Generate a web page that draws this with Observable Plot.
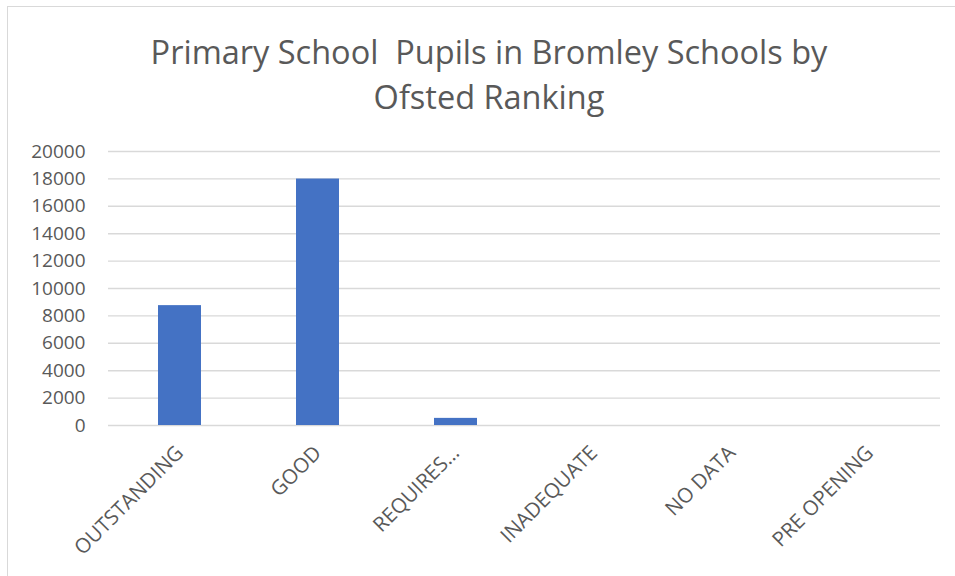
<!DOCTYPE html>
<html>
<head>
<meta charset="utf-8">
<script src="https://cdn.jsdelivr.net/npm/d3@7"></script>
<script src="https://cdn.jsdelivr.net/npm/@observablehq/plot@0.6"></script>
<style>
  html, body { margin: 0; padding: 0; background: #fff; width: 955px; height: 576px; overflow: hidden; }
  #frame { position: absolute; left: 7px; top: 6px; width: 964px; height: 600px; border: 1.5px solid #d9d9d9; box-sizing: border-box; }
  #title { position: absolute; left: 0; width: 978px; top: 29px; text-align: center; font-family: "Open Sans", sans-serif; font-size: 32.5px; line-height: 45px; color: #595959; white-space: nowrap; }
  #chart { position: absolute; left: 0; top: 130px; }
</style>
</head>
<body>
<div id="frame"></div>
<div id="title">Primary School&nbsp; Pupils in Bromley Schools by<br>Ofsted Ranking</div>
<div id="chart"></div>
<script>
const categories = ["OUTSTANDING", "GOOD", "REQUIRES…", "INADEQUATE", "NO DATA", "PRE OPENING"];
const pupils = [8750, 17990, 520, 0, 0, 0];
const yTicks = [0, 2000, 4000, 6000, 8000, 10000, 12000, 14000, 16000, 18000, 20000];

const data = categories.map((c, i) => ({category: c, pupils: pupils[i]}));

const chart = Plot.plot({
  width: 955,
  height: 446,
  marginTop: 21,
  marginBottom: 151,
  marginLeft: 108,
  marginRight: 15,
  style: {fontFamily: "'Open Sans', sans-serif", fontSize: "19px", color: "#595959", background: "transparent"},
  x: {domain: categories, paddingInner: 0.69, paddingOuter: 0.345, label: null},
  y: {domain: [0, 20000], label: null},
  marks: [
    Plot.ruleY(yTicks, {stroke: "#d9d9d9", strokeWidth: 1.4}),
    Plot.barY(data, {x: "category", y: "pupils", fill: "#4472c4"}),
    Plot.axisY({ticks: yTicks, tickSize: 0, tickPadding: 23, tickFormat: d => String(d), label: null, fontSize: 19}),
    Plot.axisX({tickSize: 0, tickRotate: -45, tickPadding: 24, label: null, fontSize: 20.5})
  ]
});
document.getElementById("chart").appendChild(chart);
</script>
</body>
</html>
